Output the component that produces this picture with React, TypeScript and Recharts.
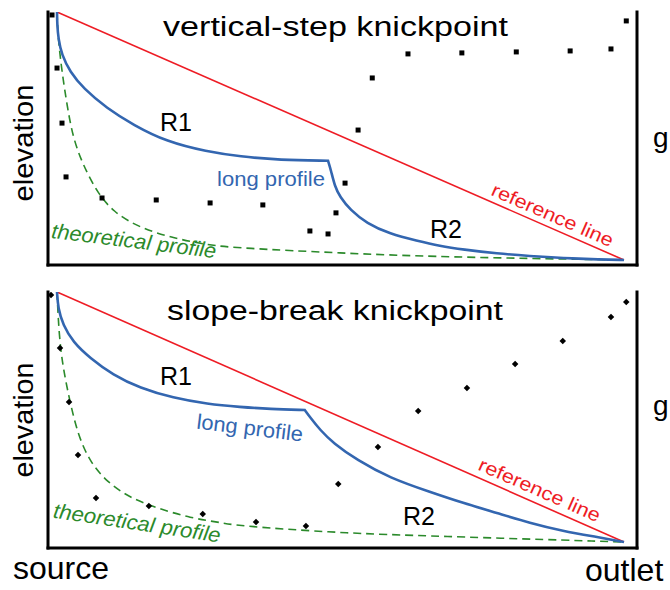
import React from 'react';
import { ComposedChart, Line, Scatter, XAxis, YAxis } from 'recharts';

type Pt = { x: number; y: number };

// distance from source (0) to outlet (100); elevation / gradient scaled 0..100
const referenceLine: Pt[] = [
  { x: 0, y: 100 },
  { x: 100, y: 0 },
];

// ---- vertical-step knickpoint ----
// (the knickpoint lip is listed three times so the smooth curve keeps its corner)
const stepProfile: Pt[] = [
  { x: 0, y: 100 }, { x: 0.04, y: 94.8 }, { x: 0.23, y: 89.4 }, { x: 0.83, y: 82.7 },
  { x: 2.29, y: 75.9 }, { x: 4.64, y: 69.2 }, { x: 8.77, y: 61.2 }, { x: 13.5, y: 54.4 },
  { x: 19.3, y: 47.7 }, { x: 26.4, y: 43.7 }, { x: 32.3, y: 41.7 }, { x: 39.3, y: 40.3 },
  { x: 47.8, y: 40.0 }, { x: 47.8, y: 40.0 }, { x: 47.8, y: 40.0 },
  { x: 48.3, y: 36.3 }, { x: 49.0, y: 29.6 }, { x: 49.9, y: 25.5 }, { x: 51.7, y: 20.2 },
  { x: 54.6, y: 14.8 }, { x: 58.7, y: 10.5 }, { x: 63.5, y: 7.7 }, { x: 67.5, y: 5.6 },
  { x: 71.6, y: 4.2 }, { x: 77.6, y: 2.6 }, { x: 83.4, y: 1.6 }, { x: 89.2, y: 0.8 },
  { x: 95.8, y: 0.2 }, { x: 100, y: 0 },
];
const stepTheory: Pt[] = [
  { x: 0, y: 100 }, { x: 0.18, y: 89.5 }, { x: 0.88, y: 75.8 }, { x: 1.76, y: 62.5 },
  { x: 2.82, y: 49.2 }, { x: 4.59, y: 38.3 }, { x: 7.05, y: 27.4 }, { x: 9.88, y: 19.4 },
  { x: 14.6, y: 12.9 }, { x: 20.5, y: 8.9 }, { x: 26.5, y: 6.0 }, { x: 32.3, y: 4.8 },
  { x: 49.9, y: 2.8 }, { x: 67.5, y: 1.2 }, { x: 100, y: 0 },
];
const stepGradient: Pt[] = [
  { x: -0.88, y: 98.8 }, { x: 0, y: 77.4 }, { x: 0.88, y: 55.2 }, { x: 1.59, y: 33.5 },
  { x: 7.94, y: 25.0 }, { x: 17.5, y: 24.2 }, { x: 27.0, y: 23.0 }, { x: 36.3, y: 22.2 },
  { x: 44.6, y: 11.7 }, { x: 47.8, y: 10.5 }, { x: 49.2, y: 19.0 }, { x: 50.8, y: 31.0 },
  { x: 53.1, y: 52.4 }, { x: 55.6, y: 73.4 }, { x: 61.9, y: 83.1 }, { x: 71.4, y: 83.5 },
  { x: 81.0, y: 83.9 }, { x: 90.5, y: 84.3 }, { x: 97.7, y: 85.1 }, { x: 100.4, y: 96.4 },
];

// ---- slope-break knickpoint ----
const breakProfile: Pt[] = [
  { x: 0, y: 100 }, { x: 0.18, y: 93.6 }, { x: 1.06, y: 86.8 }, { x: 2.82, y: 80 },
  { x: 5.82, y: 73.6 }, { x: 9.88, y: 66.8 }, { x: 14.6, y: 61.6 }, { x: 20.5, y: 57.6 },
  { x: 26.5, y: 55.2 }, { x: 32.3, y: 54 }, { x: 37.6, y: 53.2 },
  { x: 43.7, y: 52.8 }, { x: 43.7, y: 52.8 }, { x: 43.7, y: 52.8 },
  { x: 44.6, y: 50 }, { x: 46.4, y: 44.8 }, { x: 48.7, y: 39.6 }, { x: 52.9, y: 32.8 },
  { x: 58.7, y: 25.6 }, { x: 65.8, y: 20 }, { x: 71.6, y: 15.6 }, { x: 77.6, y: 11.6 },
  { x: 83.4, y: 7.6 }, { x: 89.2, y: 4.4 }, { x: 95.2, y: 2 }, { x: 100, y: 0 },
];
const breakTheory: Pt[] = [
  { x: 0, y: 100 }, { x: 0.35, y: 82.8 }, { x: 1.06, y: 69.6 }, { x: 2.29, y: 56 },
  { x: 3.7, y: 42.8 }, { x: 5.82, y: 32 }, { x: 8.82, y: 24 }, { x: 12.9, y: 17.6 },
  { x: 17.6, y: 13.6 }, { x: 23.5, y: 9.6 }, { x: 29.3, y: 7.6 }, { x: 32.3, y: 6.4 },
  { x: 49.9, y: 3.6 }, { x: 65.8, y: 2.4 }, { x: 100, y: 0 },
];
const breakGradient: Pt[] = [
  { x: -1.06, y: 98.8 }, { x: 0.53, y: 77.6 }, { x: 2.12, y: 56 }, { x: 3.7, y: 34.8 },
  { x: 6.88, y: 17.6 }, { x: 16.2, y: 14.4 }, { x: 25.7, y: 11.2 }, { x: 35.1, y: 8 },
  { x: 43.9, y: 6.4 }, { x: 49.6, y: 23.2 }, { x: 56.6, y: 38 }, { x: 63.7, y: 52.4 },
  { x: 72.3, y: 61.6 }, { x: 80.8, y: 71.2 }, { x: 89.2, y: 80.4 }, { x: 97.7, y: 90 },
  { x: 100.4, y: 96 },
];

const titles = ['vertical-step knickpoint', 'slope-break knickpoint'];
const yLabel = 'elevation';
const gLabel = 'g';
const xLabels = ['source', 'outlet'];

const RED = '#ee1c25';
const BLUE = '#3366b0';
const GREEN = '#2b8a2b';
const FONT = "'Liberation Sans', Arial, Helvetica, sans-serif";
const X_DOMAIN: [number, number] = [-1.59, 102.29];

const axisLine = { stroke: '#000', strokeWidth: 3, strokeLinecap: 'square' as const };

const SquareDot = (props: any) => (
  <rect x={props.cx - 2.5} y={props.cy - 2.5} width={5} height={5} fill="#000" />
);
const DiamondDot = (props: any) => (
  <rect
    x={props.cx - 2.3}
    y={props.cy - 2.3}
    width={4.6}
    height={4.6}
    fill="#000"
    transform={`rotate(45 ${props.cx} ${props.cy})`}
  />
);

function Panel(props: {
  top: number;
  height: number;
  marginTop: number;
  marginBottom: number;
  yMin: number;
  profile: Pt[];
  theory: Pt[];
  gradient: Pt[];
  shape: any;
}) {
  const { top, height, marginTop, marginBottom, yMin, profile, theory, gradient, shape } = props;
  return (
    <div style={{ position: 'absolute', left: 0, top }}>
      <ComposedChart
        width={670}
        height={height}
        margin={{ top: marginTop, left: 38, right: 23, bottom: marginBottom }}
      >
        <XAxis
          type="number"
          dataKey="x"
          domain={X_DOMAIN}
          allowDataOverflow
          tick={false}
          tickLine={false}
          axisLine={axisLine}
          height={10}
        />
        <YAxis
          yAxisId="e"
          type="number"
          dataKey="y"
          domain={[yMin, 100]}
          allowDataOverflow
          tick={false}
          tickLine={false}
          axisLine={axisLine}
          width={10}
        />
        <YAxis
          yAxisId="g"
          orientation="right"
          type="number"
          dataKey="y"
          domain={[yMin, 100]}
          allowDataOverflow
          tick={false}
          tickLine={false}
          axisLine={axisLine}
          width={10}
        />
        <Line
          yAxisId="e"
          data={theory}
          dataKey="y"
          type="basis"
          stroke={GREEN}
          strokeWidth={1.6}
          strokeDasharray="8 5"
          dot={false}
          activeDot={false}
          isAnimationActive={false}
        />
        <Line
          yAxisId="e"
          data={referenceLine}
          dataKey="y"
          type="linear"
          stroke={RED}
          strokeWidth={1.6}
          dot={false}
          activeDot={false}
          isAnimationActive={false}
        />
        <Line
          yAxisId="e"
          data={profile}
          dataKey="y"
          type="basis"
          stroke={BLUE}
          strokeWidth={2.6}
          dot={false}
          activeDot={false}
          isAnimationActive={false}
        />
        <Scatter
          yAxisId="g"
          data={gradient}
          dataKey="y"
          shape={shape}
          isAnimationActive={false}
        />
      </ComposedChart>
    </div>
  );
}

export default function App() {
  return (
    <div
      style={{
        position: 'absolute',
        left: 0,
        top: 0,
        width: 670,
        height: 590,
        background: '#fff',
        overflow: 'hidden',
        fontFamily: FONT,
      }}
    >
      <Panel
        top={0}
        height={290}
        marginTop={12}
        marginBottom={15}
        yMin={-2.02}
        profile={stepProfile}
        theory={stepTheory}
        gradient={stepGradient}
        shape={SquareDot}
      />
      <Panel
        top={280}
        height={300}
        marginTop={12}
        marginBottom={22}
        yMin={-2.4}
        profile={breakProfile}
        theory={breakTheory}
        gradient={breakGradient}
        shape={DiamondDot}
      />
      <svg
        width={670}
        height={590}
        style={{ position: 'absolute', left: 0, top: 0, pointerEvents: 'none' }}
        fontFamily={FONT}
      >
        {/* top panel */}
        <text x={163} y={36} fontSize={27} fill="#000" textLength={345} lengthAdjust="spacingAndGlyphs">
          {titles[0]}
        </text>
        <text transform="translate(33,143) rotate(-90)" textAnchor="middle" fontSize={28} fill="#000" textLength={117} lengthAdjust="spacingAndGlyphs">
          {yLabel}
        </text>
        <text x={160} y={131} fontSize={25} fill="#000">R1</text>
        <text x={217} y={186} fontSize={21} fill={BLUE} textLength={108} lengthAdjust="spacingAndGlyphs">long profile</text>
        <text transform="translate(133,248) rotate(7)" textAnchor="middle" fontSize={21} fontStyle="italic" fill={GREEN} textLength={166} lengthAdjust="spacingAndGlyphs">
          theoretical profile
        </text>
        <text x={430} y={238} fontSize={25} fill="#000">R2</text>
        <text transform="translate(550,221) rotate(23.6)" textAnchor="middle" fontSize={19} fill={RED} textLength={131} lengthAdjust="spacingAndGlyphs">
          reference line
        </text>
        <text x={653} y={147} fontSize={28} fill="#000">{gLabel}</text>

        {/* bottom panel */}
        <text x={167} y={320} fontSize={27} fill="#000" textLength={336} lengthAdjust="spacingAndGlyphs">
          {titles[1]}
        </text>
        <text transform="translate(33,420) rotate(-90)" textAnchor="middle" fontSize={28} fill="#000" textLength={115} lengthAdjust="spacingAndGlyphs">
          {yLabel}
        </text>
        <text x={160} y={385} fontSize={25} fill="#000">R1</text>
        <text transform="translate(249,435) rotate(7)" textAnchor="middle" fontSize={21} fill={BLUE} textLength={107} lengthAdjust="spacingAndGlyphs">
          long profile
        </text>
        <text transform="translate(136,530) rotate(8.5)" textAnchor="middle" fontSize={21} fontStyle="italic" fill={GREEN} textLength={169} lengthAdjust="spacingAndGlyphs">
          theoretical profile
        </text>
        <text x={403} y={525} fontSize={25} fill="#000">R2</text>
        <text transform="translate(537,496) rotate(23.8)" textAnchor="middle" fontSize={19} fill={RED} textLength={131} lengthAdjust="spacingAndGlyphs">
          reference line
        </text>
        <text x={653} y={415} fontSize={28} fill="#000">{gLabel}</text>

        <text x={13} y={579} fontSize={32} fill="#000">{xLabels[0]}</text>
        <text x={585} y={581} fontSize={32} fill="#000">{xLabels[1]}</text>
      </svg>
    </div>
  );
}
